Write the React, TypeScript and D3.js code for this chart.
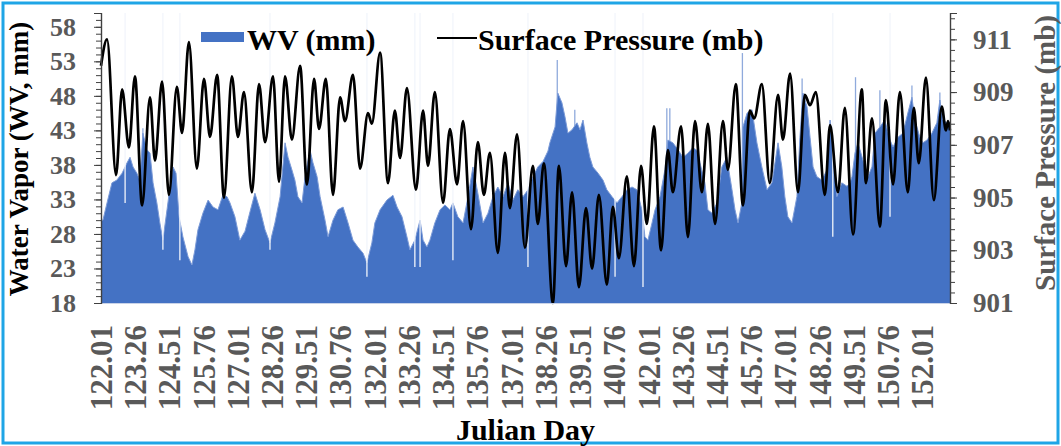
import React, { useEffect, useRef } from 'react';
import * as d3 from 'd3';

const wvDay = [
  122.00, 122.07, 122.22, 122.40, 122.58, 122.77, 122.95, 123.06, 123.17, 123.31,
  123.42, 123.53, 123.68, 123.79, 123.90, 124.04, 124.15, 124.26, 124.41, 124.52,
  124.63, 124.74, 124.85, 124.99, 125.18, 125.32, 125.43, 125.54, 125.72, 125.91,
  126.09, 126.27, 126.45, 126.60, 126.71, 126.89, 127.07, 127.26, 127.44, 127.62,
  127.81, 127.99, 128.17, 128.35, 128.54, 128.72, 128.83, 128.97, 129.08, 129.19,
  129.34, 129.45, 129.63, 129.74, 129.89, 130.00, 130.18, 130.29, 130.47, 130.65,
  130.84, 131.02, 131.20, 131.38, 131.57, 131.71, 131.89, 132.00, 132.19, 132.44,
  132.66, 132.81, 132.99, 133.17, 133.28, 133.46, 133.65, 133.76, 133.90, 134.01,
  134.19, 134.38, 134.56, 134.74, 134.85, 135.03, 135.22, 135.40, 135.58, 135.76,
  135.95, 136.13, 136.31, 136.49, 136.68, 136.86, 137.04, 137.22, 137.41, 137.59,
  137.77, 137.95, 138.14, 138.32, 138.39, 138.58, 138.68, 138.83, 138.94, 139.05,
  139.20, 139.38, 139.49, 139.60, 139.74, 139.85, 139.96, 140.15, 140.33, 140.47,
  140.66, 140.84, 141.02, 141.20, 141.39, 141.57, 141.75, 141.86, 141.97, 142.12,
  142.23, 142.41, 142.59, 142.70, 142.88, 143.07, 143.25, 143.43, 143.61, 143.80,
  143.87, 144.05, 144.16, 144.31, 144.49, 144.67, 144.85, 145.04, 145.15, 145.26,
  145.40, 145.44, 145.59, 145.77, 145.95, 146.13, 146.32, 146.50, 146.61, 146.72,
  146.86, 146.97, 147.08, 147.23, 147.41, 147.52, 147.63, 147.78, 147.89, 148.00,
  148.14, 148.32, 148.51, 148.62, 148.72, 148.87, 149.05, 149.24, 149.35, 149.42,
  149.53, 149.64, 149.82, 150.00, 150.15, 150.26, 150.44, 150.62, 150.81, 150.92,
  151.10, 151.28, 151.46, 151.61, 151.72, 151.90, 152.01, 152.16, 152.34, 152.52,
  152.63, 152.74, 152.89, 153.00
];
const wvMm = [
  30.0, 30.0, 32.5, 35.4, 35.8, 36.8, 38.3, 39.1, 37.7, 36.8,
  35.8, 42.6, 40.2, 39.7, 35.4, 32.5, 29.6, 27.1, 31.5, 34.8,
  37.7, 36.8, 30.5, 27.6, 24.7, 23.5, 25.7, 28.6, 31.0, 32.9,
  31.9, 31.5, 33.6, 33.4, 32.5, 30.5, 27.1, 28.4, 31.2, 33.9,
  31.5, 28.6, 26.7, 29.6, 33.4, 41.2, 39.1, 37.3, 35.8, 33.4,
  32.5, 36.3, 40.2, 38.3, 36.3, 33.4, 30.0, 27.6, 30.0, 31.5,
  31.9, 29.6, 27.1, 26.1, 25.2, 23.8, 26.7, 29.6, 31.5, 32.9,
  33.6, 31.9, 30.5, 27.6, 25.7, 27.1, 30.0, 27.1, 26.1, 27.1,
  29.6, 31.5, 32.2, 31.5, 32.5, 30.5, 29.6, 33.4, 37.7, 33.9,
  29.6, 31.0, 33.4, 34.8, 33.4, 35.4, 32.9, 34.4, 33.4, 34.4,
  36.3, 37.7, 38.5, 40.0, 41.2, 43.5, 48.4, 47.0, 45.0, 42.6,
  43.1, 44.1, 43.1, 44.5, 41.2, 39.1, 37.7, 36.8, 35.8, 34.4,
  33.4, 32.5, 33.4, 34.4, 34.8, 34.4, 31.5, 27.6, 27.1, 29.6,
  31.5, 33.4, 37.3, 41.6, 41.2, 40.2, 39.1, 39.7, 40.5, 40.0,
  38.3, 35.4, 31.5, 31.0, 32.5, 37.7, 39.1, 34.4, 31.5, 29.6,
  32.5, 43.5, 45.5, 46.0, 41.2, 37.7, 34.4, 35.4, 38.3, 41.2,
  37.7, 33.4, 30.5, 29.6, 33.4, 42.0, 48.4, 46.4, 42.0, 37.7,
  36.3, 35.8, 37.3, 44.5, 41.2, 33.4, 35.4, 34.9, 35.4, 36.3,
  39.7, 41.2, 38.7, 36.3, 37.7, 42.6, 43.5, 44.5, 41.6, 40.6,
  42.0, 42.6, 45.5, 47.8, 44.5, 42.0, 41.2, 41.6, 42.6, 44.1,
  47.4, 44.5, 44.1, 44.1
];

// single-reading spikes above the area and drop-outs into it
const spikeDay = [123.53, 129.63, 138.66, 139.30, 142.66, 142.77, 145.42, 147.60, 149.55, 150.44, 151.61, 152.63];
const spikeMm = [43.3, 41.5, 53.2, 46.0, 46.2, 46.2, 54.2, 50.5, 50.7, 48.8, 49.5, 48.5];
const dipDay = [122.88, 124.26, 124.88, 128.17, 131.71, 133.46, 133.65, 134.85, 137.59, 140.77, 141.79, 148.72, 150.81];
const dipMm = [32.5, 25.7, 24.2, 25.7, 21.8, 23.2, 23.2, 24.2, 23.2, 21.8, 20.3, 27.6, 30.5];

// Surface pressure (mb), turning points of the black line
const spDay = [
  122.00, 122.22, 122.55, 122.77, 123.02, 123.24, 123.50, 123.79, 123.97, 124.23,
  124.48, 124.77, 124.96, 125.21, 125.50, 125.76, 125.98, 126.24, 126.49, 126.78,
  127.00, 127.22, 127.51, 127.77, 127.99, 128.28, 128.50, 128.72, 128.97, 129.27,
  129.52, 129.78, 129.96, 130.21, 130.47, 130.73, 130.91, 131.20, 131.46, 131.75,
  131.89, 132.19, 132.48, 132.73, 132.92, 133.17, 133.50, 133.76, 133.94, 134.19,
  134.49, 134.74, 135.00, 135.22, 135.51, 135.76, 135.98, 136.20, 136.49, 136.75,
  136.93, 137.19, 137.48, 137.77, 137.95, 138.17, 138.50, 138.72, 138.98, 139.20,
  139.45, 139.71, 139.93, 140.18, 140.47, 140.69, 140.91, 141.20, 141.46, 141.72,
  141.93, 142.19, 142.45, 142.70, 142.88, 143.18, 143.43, 143.69, 143.94, 144.16,
  144.42, 144.71, 144.89, 145.18, 145.44, 145.69, 145.85, 146.13, 146.42, 146.72,
  146.90, 147.16, 147.45, 147.70, 147.89, 148.10, 148.43, 148.62, 148.91, 149.16,
  149.46, 149.78, 149.93, 150.15, 150.44, 150.66, 150.92, 151.17, 151.46, 151.68,
  151.86, 152.12, 152.41, 152.70, 152.85, 152.93, 153.00
];
const spMb = [
  910.0, 911.0, 905.85, 909.1, 906.9, 909.6, 904.7, 908.8, 906.4, 909.4,
  905.1, 909.2, 907.45, 910.9, 906.1, 909.5, 907.3, 909.65, 905.0, 909.6,
  907.3, 909.0, 905.2, 909.3, 907.1, 909.6, 905.6, 909.6, 907.2, 910.0,
  905.5, 909.5, 907.6, 909.5, 905.1, 908.8, 907.9, 909.65, 906.1, 908.2,
  907.8, 910.5, 905.55, 908.3, 906.5, 909.15, 905.3, 908.3, 906.2, 909.0,
  904.8, 907.6, 905.5, 907.9, 903.8, 907.1, 905.1, 906.7, 902.9, 906.7,
  904.6, 907.4, 903.1, 906.2, 904.0, 906.3, 901.0, 906.2, 902.4, 905.2,
  901.6, 904.6, 902.3, 905.1, 901.7, 904.65, 902.7, 905.8, 902.4, 906.2,
  904.0, 907.7, 903.0, 906.8, 905.2, 907.7, 903.5, 907.9, 905.2, 907.8,
  904.0, 907.9, 906.05, 909.3, 904.7, 908.3, 908.0, 909.3, 905.55, 908.9,
  907.2, 909.7, 905.2, 908.9, 908.5, 909.0, 905.1, 907.75, 905.2, 908.4,
  903.6, 909.1, 905.55, 908.0, 903.9, 908.7, 905.5, 909.0, 905.2, 908.4,
  906.3, 909.55, 904.9, 908.45, 907.55, 907.9, 907.55
];

const dayLabels = [
  '122.01', '123.26', '124.51', '125.76', '127.01', '128.26', '129.51', '130.76', '132.01',
  '133.26', '134.51', '135.76', '137.01', '138.26', '139.51', '140.76', '142.01', '143.26',
  '144.51', '145.76', '147.01', '148.26', '149.51', '150.76', '152.01'
];
const wvTicks = [18, 23, 28, 33, 38, 43, 48, 53, 58];
const spTicks = [901, 903, 905, 907, 909, 911];

const FONT = "'Liberation Serif', 'Times New Roman', serif";
const GREY = '#595959';
const BLUE = '#4472C4';

const App = () => {
  const ref = useRef(null);
  const width = 1061;
  const height = 446;

  useEffect(() => {
    const svg = d3.select(ref.current);
    svg.selectAll('*').remove();

    const left = 101, right = 950, top = 13, bottom = 303;

    const x = d3.scaleLinear().domain([122, 153]).range([left, right]);
    const yL = d3.scaleLinear().domain([18, 60]).range([bottom, top]);
    const yR = d3.scaleLinear().domain([901, 912]).range([bottom, top]);

    // frame
    svg.append('rect')
      .attr('x', 3).attr('y', 3)
      .attr('width', width - 6).attr('height', height - 6)
      .attr('fill', 'none')
      .attr('stroke', '#1FA5E6')
      .attr('stroke-width', 3);

    // spikes first, the area hides their lower part
    svg.selectAll('.spike')
      .data(spikeDay.map((d, i) => [d, spikeMm[i]]))
      .enter().append('line')
      .attr('x1', d => x(d[0])).attr('x2', d => x(d[0]))
      .attr('y1', bottom).attr('y2', d => yL(d[1]))
      .attr('stroke', '#8FAADC')
      .attr('stroke-width', 1.3);

    // WV area
    const wv = wvDay.map((d, i) => [d, wvMm[i]]);
    svg.append('path')
      .datum(wv)
      .attr('fill', BLUE)
      .attr('d', d3.area().x(d => x(d[0])).y0(bottom).y1(d => yL(d[1])));
    svg.append('path')
      .datum(wv)
      .attr('fill', 'none')
      .attr('stroke', '#7C9BD8')
      .attr('stroke-width', 1)
      .attr('d', d3.line().x(d => x(d[0])).y(d => yL(d[1])));

    // drop-outs (white, background above the area is white too)
    svg.selectAll('.dip')
      .data(dipDay.map((d, i) => [d, dipMm[i]]))
      .enter().append('line')
      .attr('x1', d => x(d[0])).attr('x2', d => x(d[0]))
      .attr('y1', d => yL(d[1])).attr('y2', top)
      .attr('stroke', '#F2F5FB')
      .attr('stroke-width', 1.3);

    // pressure line
    svg.append('path')
      .datum(spDay.map((d, i) => [d, spMb[i]]))
      .attr('fill', 'none')
      .attr('stroke', '#000000')
      .attr('stroke-width', 2.7)
      .attr('stroke-linejoin', 'round')
      .attr('d', d3.line().x(d => x(d[0])).y(d => yR(d[1])).curve(d3.curveMonotoneX));

    // bottom axis line
    svg.append('line')
      .attr('x1', left).attr('x2', right)
      .attr('y1', bottom + 0.5).attr('y2', bottom + 0.5)
      .attr('stroke', '#C9D3E8');

    // left axis: minor and major ticks
    svg.append('g')
      .attr('transform', `translate(${left},0)`)
      .call(d3.axisLeft(yL).tickValues(d3.range(18, 61, 1)).tickSize(5).tickFormat(() => ''));
    const gL = svg.append('g')
      .attr('transform', `translate(${left},0)`)
      .call(d3.axisLeft(yL).tickValues(wvTicks).tickSize(7).tickPadding(18));
    gL.selectAll('text')
      .attr('font-family', FONT).attr('font-weight', 'bold')
      .attr('font-size', 26).attr('fill', GREY);

    // right axis
    svg.append('g')
      .attr('transform', `translate(${right},0)`)
      .call(d3.axisRight(yR).tickValues(d3.range(901, 912.01, 0.4)).tickSize(5).tickFormat(() => ''));
    const gR = svg.append('g')
      .attr('transform', `translate(${right},0)`)
      .call(d3.axisRight(yR).tickValues(spTicks).tickSize(7).tickPadding(16));
    gR.selectAll('text')
      .attr('font-family', FONT).attr('font-weight', 'bold')
      .attr('font-size', 27).attr('fill', GREY);

    svg.selectAll('.domain').attr('stroke', '#404040').attr('stroke-width', 1.2);
    svg.selectAll('.tick line').attr('stroke', '#404040');

    // x labels
    svg.selectAll('.xlab')
      .data(dayLabels)
      .enter().append('text')
      .attr('transform', d => `translate(${x(+d)},325) rotate(-90)`)
      .attr('text-anchor', 'end')
      .attr('dy', '0.34em')
      .attr('font-family', FONT).attr('font-weight', 'bold')
      .attr('font-size', 31).attr('fill', GREY)
      .text(d => d);

    // axis titles
    svg.append('text')
      .attr('transform', 'translate(28,159) rotate(-90)')
      .attr('text-anchor', 'middle')
      .attr('font-family', FONT).attr('font-weight', 'bold')
      .attr('font-size', 27).attr('fill', '#000000')
      .text('Water Vapor (WV, mm)');
    svg.append('text')
      .attr('transform', 'translate(1055,153) rotate(-90)')
      .attr('text-anchor', 'middle')
      .attr('font-family', FONT).attr('font-weight', 'bold')
      .attr('font-size', 29).attr('fill', GREY)
      .text('Surface Pressure (mb)');
    svg.append('text')
      .attr('x', (left + right) / 2).attr('y', 440)
      .attr('text-anchor', 'middle')
      .attr('font-family', FONT).attr('font-weight', 'bold')
      .attr('font-size', 30).attr('fill', '#000000')
      .text('Julian Day');

    // legend
    const lg = svg.append('g');
    lg.append('rect')
      .attr('x', 201).attr('y', 32).attr('width', 43).attr('height', 10)
      .attr('fill', BLUE);
    lg.append('text')
      .attr('x', 247).attr('y', 50)
      .attr('font-family', FONT).attr('font-weight', 'bold')
      .attr('font-size', 30).attr('fill', '#000000')
      .text('WV (mm)');
    lg.append('line')
      .attr('x1', 437).attr('x2', 477).attr('y1', 38).attr('y2', 38)
      .attr('stroke', '#000000').attr('stroke-width', 2);
    lg.append('text')
      .attr('x', 478).attr('y', 50)
      .attr('font-family', FONT).attr('font-weight', 'bold')
      .attr('font-size', 30).attr('fill', '#000000')
      .text('Surface Pressure (mb)');
  }, []);

  return (
    <div style={{ position: 'absolute', left: 0, top: 0 }}>
      <svg ref={ref} width={width} height={height} style={{ display: 'block', background: '#ffffff' }}></svg>
    </div>
  );
};

export default App;
